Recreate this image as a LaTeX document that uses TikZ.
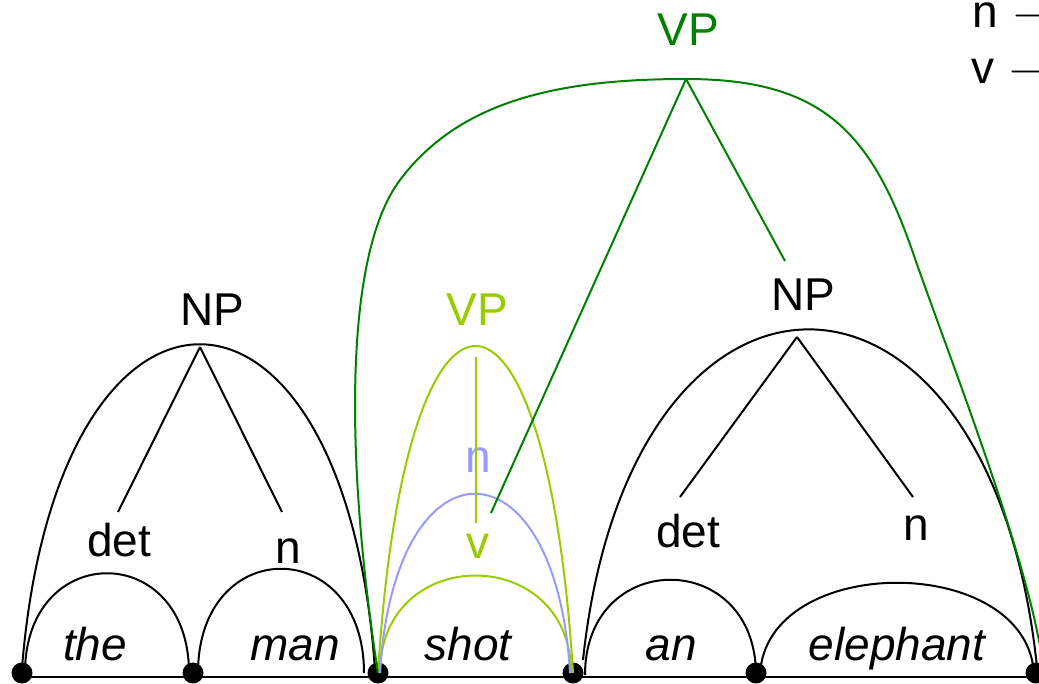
\RequirePackage{fix-cm}
\documentclass[tikz,border=0pt]{standalone}
\usepackage{fontspec}
\setmainfont{Liberation Sans}
\definecolor{vpgreen}{RGB}{0,128,0}
\definecolor{limegreen}{RGB}{153,204,0}
\definecolor{lblue}{RGB}{153,153,255}
\begin{document}
\begin{tikzpicture}[x=1pt,y=-1pt,
  lbl/.style={font=\fontsize{46}{55}\selectfont, inner sep=0pt, anchor=base},
  word/.style={font=\fontsize{46}{55}\selectfont\itshape, inner sep=0pt, anchor=base},
  dot/.style={circle, fill=black, inner sep=0pt, minimum size=21pt},
  blk/.style={line width=2pt, draw=black},
  dkg/.style={line width=2pt, draw=vpgreen},
  lim/.style={line width=2pt, draw=limegreen},
  blu/.style={line width=2pt, draw=lblue}]
\useasboundingbox (0,0) rectangle (1039,683);
\clip (0,0) rectangle (1039,683);

% dots
\node[dot] (d0) at (22,673) {};
\node[dot] (d1) at (193,673) {};
\node[dot] (d2) at (378,673) {};
\node[dot] (d3) at (573,673) {};
\node[dot] (d4) at (756,673) {};
\node[dot] (d5) at (1036,673) {};
\coordinate (bend) at (1060,677);
\draw[blk] ([yshift=-4pt]d0.center) -- (bend);

% words
\node[word] (w1) at (95,660) {the};
\node[word] (w2) at (295,660) {man};
\node[word] (w3) at (468,660) {shot};
\node[word] (w4) at (671,660) {an};
\node[word] (w5) at (897,660) {elephant};

% labels
\node[lbl] (np1) at (212,325) {NP};
\node[lbl] (det1) at (119,556) {det};
\node[lbl] (n1) at (288,563) {n};
\node[lbl] (np2) at (803,310) {NP};
\node[lbl] (det2) at (688,547) {det};
\node[lbl] (n2) at (916,540) {n};
\node[lbl, text=vpgreen] (vp1) at (688,45) {VP};
\node[lbl, text=limegreen] (vp2) at (477,325) {VP};
\node[lbl, text=lblue] (nb) at (478,472) {n};
\node[lbl, text=limegreen] (vv) at (478,558) {v};

% legend (cut off at the right edge)
\node[lbl, anchor=base west] (lg1) at (972,27) {n\hspace{3pt} $\rightarrow$};
\node[lbl, anchor=base west] (lg2) at (971,83) {v\hspace{3pt} $\rightarrow$};

% tree coordinates
\coordinate (np1a) at (200,347);
\coordinate (det1e) at (118,512);
\coordinate (n1e) at (282,512);
\coordinate (np2a) at (797,337);
\coordinate (det2e) at (680,497);
\coordinate (n2e) at (913,497);
\coordinate (vp1a) at (686,79);
\coordinate (vve) at (491,513);
\coordinate (np2e) at (785,261);
\coordinate (vp2a) at (476,357);
\coordinate (vp2e) at (476,523);

% word arcs
\draw[blk] ([xshift=3pt]d0.center) .. controls +(0,-133) and +(0,-133) .. ([xshift=-4pt]d1.center);
\draw[blk] ([xshift=5pt]d1.center) .. controls +(0,-139) and +(0,-139) .. ([xshift=-14pt]d2.center);
\draw[blk] ([xshift=12pt,yshift=-2pt]d3.center) .. controls +(0,-127) and +(0,-127) .. ([yshift=-2pt]d4.center);
\draw[blk] ([xshift=4pt,yshift=-2pt]d4.center) .. controls +(5,-123) and +(-5,-123) .. ([xshift=-2pt,yshift=-2pt]d5.center);

% NP arcs
\draw[blk] ([yshift=5pt]d0.center) .. controls +(35,-433) and +(-30,-433) .. ([xshift=-3pt,yshift=3pt]d2.center);
\draw[blk] ([xshift=10pt,yshift=13pt]d3.center) .. controls +(47,-442) and +(-47,-449) .. ([xshift=1pt,yshift=6pt]d5.center);

% NP trees
\draw[blk] (np1a) -- (det1e);
\draw[blk] (np1a) -- (n1e);
\draw[blk] (np2a) -- (det2e);
\draw[blk] (np2a) -- (n2e);

% shot arcs
\draw[lim] ([xshift=2pt]d2.center) .. controls +(0,-130) and +(0,-130) .. ([xshift=-2pt]d3.center);
\draw[blu] ([xshift=2pt]d2.center) .. controls +(14,-239) and +(-14,-239) .. ([xshift=-3pt]d3.center);
\draw[lim] (d2.center) .. controls +(27,-436) and +(-27,-436) .. (d3.center);
\draw[lim] (vp2a) -- (vp2e);

% big VP
\draw[dkg] (d2.center) .. controls (348,480) and (340,260) .. (400,180)
  .. controls (460,100) and (560,79) .. (vp1a)
  .. controls (820,79) and (870,130) .. (912,250)
  .. controls (950,360) and (1030,560) .. ([xshift=8pt,yshift=2pt]d5.center);
\draw[dkg] (vp1a) -- (vve);
\draw[dkg] (vp1a) -- (np2e);
\end{tikzpicture}
\end{document}
